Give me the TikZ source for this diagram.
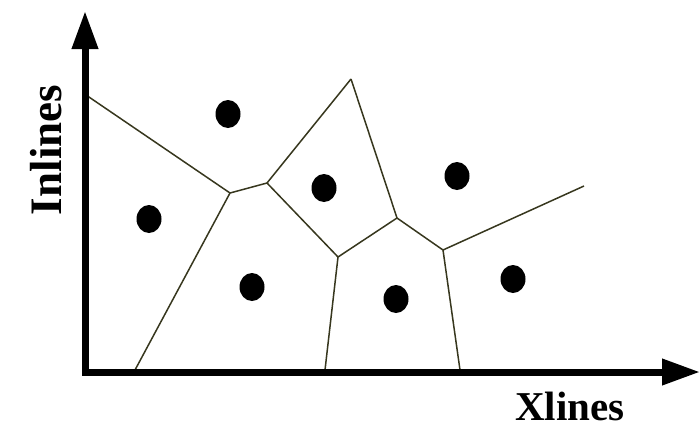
\documentclass[tikz,border=0pt]{standalone}
\usepackage{fontspec}
\setmainfont{Liberation Serif}
\usetikzlibrary{arrows.meta}
\definecolor{edgecol}{RGB}{55,55,30}
\tikzset{
  axisline/.style={line width=7pt, line join=miter, {Triangle[length=38pt,width=25pt]}-{Triangle[length=38pt,width=25pt]}},
  vedge/.style={draw=edgecol, line width=1.5pt},
  site/.style={fill=black, x radius=12.5pt, y radius=14pt},
  axlabel/.style={font=\bfseries\fontsize{41}{41}\selectfont, inner sep=0pt, text depth=0pt, anchor=base}
}
\begin{document}
\begin{tikzpicture}[x=1pt,y=-1pt]
\useasboundingbox (0,0) rectangle (700,429);
% Voronoi vertices
\coordinate (A) at (86,95);
\coordinate (B) at (230,193);
\coordinate (C) at (267,183);
\coordinate (D) at (351,79);
\coordinate (E) at (397,218);
\coordinate (F) at (443,250);
\coordinate (G) at (584,186);
\coordinate (H) at (338,257);
\coordinate (P1) at (135,370);
\coordinate (P2) at (325,370);
\coordinate (P3) at (460,370);
% edges
\draw[vedge] (A) -- (B);
\draw[vedge] (B) -- (C);
\draw[vedge] (B) -- (P1);
\draw[vedge] (C) -- (D);
\draw[vedge] (C) -- (H);
\draw[vedge] (D) -- (E);
\draw[vedge] (H) -- (E);
\draw[vedge] (H) -- (P2);
\draw[vedge] (E) -- (F);
\draw[vedge] (F) -- (G);
\draw[vedge] (F) -- (P3);
% sites
\fill[site] (228,114) ellipse [];
\fill[site] (149,219) ellipse [];
\fill[site] (252,287) ellipse [];
\fill[site] (324,188) ellipse [];
\fill[site] (457,176) ellipse [];
\fill[site] (396,299) ellipse [];
\fill[site] (513,279) ellipse [];
% axes
\coordinate (ytip) at (85,11);
\coordinate (origin) at (85,372);
\coordinate (xtip) at (700,372);
\draw[axisline] (ytip) -- (origin) -- (xtip);
% labels
\node[axlabel] (xl) at (570,420) {Xlines};
\node[axlabel, rotate=90, font=\bfseries\fontsize{45}{45}\selectfont] (yl) at (61,150) {Inlines};
\end{tikzpicture}
\end{document}
